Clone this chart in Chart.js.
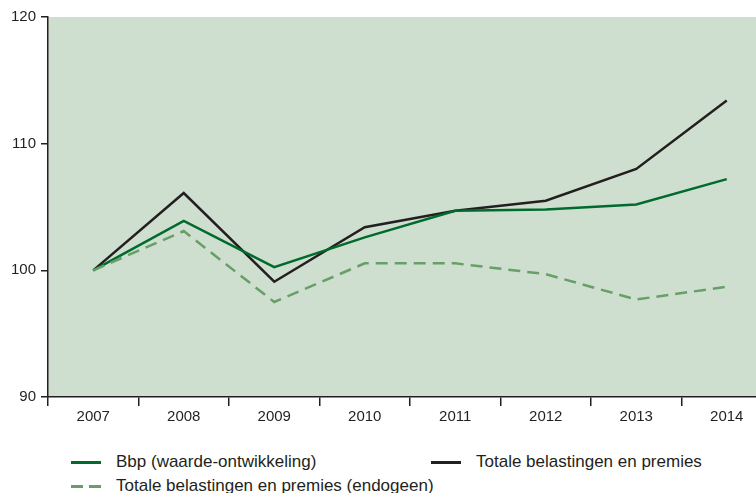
<!DOCTYPE html>
<html>
<head>
<meta charset="utf-8">
<script src="https://cdn.jsdelivr.net/npm/chart.js@4/dist/chart.umd.min.js"></script>
<style>
  html, body { margin: 0; padding: 0; background: #fff; }
  #wrap { position: relative; width: 756px; height: 493px; overflow: hidden; }
  #chart { position: absolute; left: 0; top: 0; }
  .legend { position: absolute; left: 0; top: 0; font-family: "Liberation Sans Narrow", "Liberation Sans", Arial, sans-serif; font-size: 17px; color: #231f20; }
  .item { position: absolute; white-space: nowrap; line-height: 20px; height: 20px; }
  .mark { position: absolute; left: 0; top: 9px; width: 30px; height: 3px; }
  .label { position: absolute; top: 0; }
</style>
</head>
<body>
<div id="wrap">
  <canvas id="chart" width="772" height="432"></canvas>
  <div class="legend" id="legend"></div>
</div>
<script>
const years = ['2007', '2008', '2009', '2010', '2011', '2012', '2013', '2014'];
const bbp = [100, 103.9, 100.25, 102.6, 104.7, 104.8, 105.2, 107.2];
const totaal = [100, 106.1, 99.1, 103.4, 104.7, 105.5, 108.0, 113.4];
const endogeen = [100, 103.1, 97.5, 100.55, 100.55, 99.7, 97.7, 98.7];
const yTicks = [90, 100, 110, 120];

const ink = '#231f20';
const green = '#006b2d';
const lightGreen = '#689f68';
const fill = '#cfdfcf';

// pale green plot background
const plotBg = {
  id: 'plotBg',
  beforeDraw(chart) {
    const { ctx, chartArea: a } = chart;
    ctx.save();
    ctx.fillStyle = fill;
    ctx.fillRect(a.left, a.top, a.right - a.left, a.bottom - a.top);
    ctx.restore();
  }
};

const ctx = document.getElementById('chart').getContext('2d');
new Chart(ctx, {
  type: 'line',
  data: {
    labels: years,
    datasets: [
      { label: 'Totale belastingen en premies (endogeen)', data: endogeen, borderColor: lightGreen, borderWidth: 2.5, borderDash: [12, 7] },
      { label: 'Bbp (waarde-ontwikkeling)', data: bbp, borderColor: green, borderWidth: 2.5 },
      { label: 'Totale belastingen en premies', data: totaal, borderColor: ink, borderWidth: 2.5 }
    ]
  },
  options: {
    responsive: false,
    animation: false,
    layout: { padding: { top: 17, right: 0, bottom: 0, left: 0 } },
    elements: { point: { radius: 0 }, line: { tension: 0, borderJoinStyle: 'miter' } },
    plugins: { legend: { display: false }, tooltip: { enabled: false } },
    scales: {
      x: {
        offset: true,
        afterFit(s) { s.height = 35; },
        border: { color: ink, width: 1.5 },
        grid: { drawOnChartArea: false, color: ink, tickLength: 9, lineWidth: 1.5, offset: true },
        ticks: { color: ink, font: { family: 'Liberation Sans', size: 15 }, padding: 2, maxRotation: 0 }
      },
      y: {
        min: 90,
        max: 120,
        afterFit(s) { s.width = 48; },
        afterBuildTicks(s) { s.ticks = yTicks.map(v => ({ value: v })); },
        border: { color: ink, width: 1.5 },
        grid: { drawOnChartArea: false, color: ink, tickLength: 7, lineWidth: 1.5 },
        ticks: { color: ink, font: { family: 'Liberation Sans', size: 15 }, padding: 5 }
      }
    }
  },
  plugins: [plotBg]
});

// legend below the chart, two columns
const legendItems = [
  { text: 'Bbp (waarde-ontwikkeling)', color: green, dash: false, x: 71, y: 452 },
  { text: 'Totale belastingen en premies', color: ink, dash: false, x: 431, y: 452 },
  { text: 'Totale belastingen en premies (endogeen)', color: lightGreen, dash: true, x: 71, y: 476 }
];
const legend = document.getElementById('legend');
legendItems.forEach(it => {
  const el = document.createElement('div');
  el.className = 'item';
  el.style.left = it.x + 'px';
  el.style.top = it.y + 'px';
  const m = document.createElement('span');
  m.className = 'mark';
  m.style.background = it.dash
    ? `repeating-linear-gradient(to right, ${it.color} 0 12px, transparent 12px 18px)`
    : it.color;
  const t = document.createElement('span');
  t.className = 'label';
  t.style.left = '45px';
  t.textContent = it.text;
  el.appendChild(m);
  el.appendChild(t);
  legend.appendChild(el);
});
</script>
</body>
</html>
